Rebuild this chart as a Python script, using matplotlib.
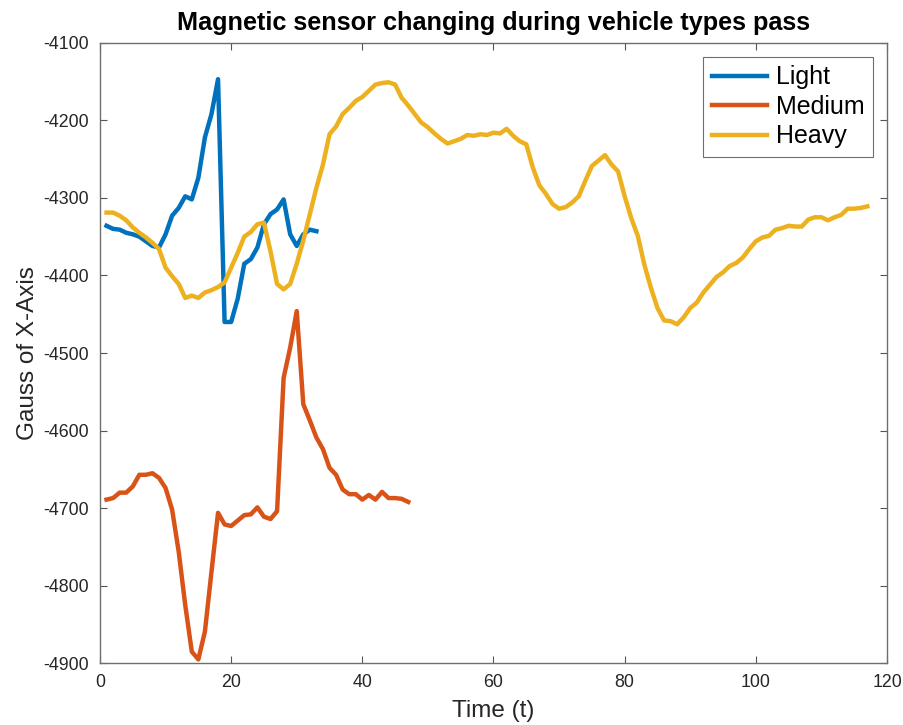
import matplotlib
matplotlib.use('Agg')
import matplotlib.pyplot as plt
import numpy as np

# Sensor readings (Gauss, X axis) per time step
light = [-4336, -4340, -4341, -4345, -4347, -4350, -4356, -4362, -4364, -4347,
         -4323, -4313, -4298, -4302, -4274, -4222, -4192, -4147, -4460, -4460,
         -4430, -4385, -4379, -4364, -4334, -4321, -4315, -4302, -4347, -4362,
         -4347, -4341, -4343]

medium = [-4689, -4687, -4680, -4680, -4672, -4657, -4657, -4655, -4661, -4674,
          -4702, -4756, -4825, -4885, -4895, -4859, -4782, -4706, -4721, -4723,
          -4716, -4709, -4708, -4699, -4711, -4714, -4704, -4532, -4493, -4446,
          -4566, -4587, -4609, -4624, -4648, -4657, -4676, -4682, -4682, -4689,
          -4683, -4689, -4679, -4687, -4687, -4688, -4692]

heavy = [-4319, -4319, -4323, -4329, -4338, -4345, -4351, -4358, -4366, -4390,
         -4401, -4411, -4429, -4426, -4429, -4422, -4419, -4415, -4409, -4390,
         -4371, -4350, -4344, -4334, -4332, -4369, -4411, -4418, -4411, -4385,
         -4355, -4321, -4287, -4257, -4218, -4208, -4192, -4184, -4175, -4170,
         -4162, -4154, -4152, -4151, -4154, -4171, -4181, -4192, -4203, -4209,
         -4217, -4224, -4230, -4227, -4224, -4219, -4220, -4218, -4219, -4216,
         -4217, -4211, -4220, -4227, -4231, -4261, -4284, -4295, -4308, -4314,
         -4312, -4306, -4298, -4278, -4259, -4252, -4245, -4257, -4266, -4298,
         -4326, -4349, -4386, -4416, -4442, -4458, -4459, -4463, -4454, -4442,
         -4435, -4422, -4412, -4402, -4396, -4388, -4384, -4377, -4366, -4356,
         -4351, -4349, -4341, -4339, -4336, -4337, -4337, -4328, -4325, -4325,
         -4329, -4325, -4322, -4314, -4314, -4313, -4311]

labels = ['Light', 'Medium', 'Heavy']
colors = ['#0072BD', '#D95319', '#EDB120']

plt.rcParams['font.family'] = ['Liberation Sans', 'DejaVu Sans']
plt.rcParams['axes.unicode_minus'] = False

fig = plt.figure(figsize=(9.04, 7.25), dpi=100)
ax = fig.add_axes([0.1106, 0.0851, 0.8706, 0.856])

for series, name, c in zip([light, medium, heavy], labels, colors):
    t = np.arange(1, len(series) + 1)
    ax.plot(t, series, color=c, linewidth=3.2, label=name)

ax.set_xlim(0, 120)
ax.set_ylim(-4900, -4100)
ax.set_xticks(np.arange(0, 121, 20))
ax.set_yticks(np.arange(-4900, -4099, 100))

ax.tick_params(direction='in', top=True, right=True, length=5, width=0.8,
               colors='#262626', labelsize=12.8, pad=8, color='#555555')
for s in ax.spines.values():
    s.set_color('#6e6e6e')
    s.set_linewidth(1.0)

ax.set_title('Magnetic sensor changing during vehicle types pass',
             fontsize=18.2, fontweight='bold', pad=9)
ax.set_xlabel('Time (t)', fontsize=17.5, color='#262626', labelpad=6)
ax.set_ylabel('Gauss of X-Axis', fontsize=17.5, color='#262626', labelpad=3)

leg = ax.legend(loc='upper right', fontsize=18, fancybox=False,
                framealpha=1, edgecolor='#6e6e6e', borderaxespad=0.56,
                handlelength=2.2, handletextpad=0.35, labelspacing=0.22,
                borderpad=0.35)
leg.get_frame().set_linewidth(0.8)

fig.savefig('out.png', dpi=100)
